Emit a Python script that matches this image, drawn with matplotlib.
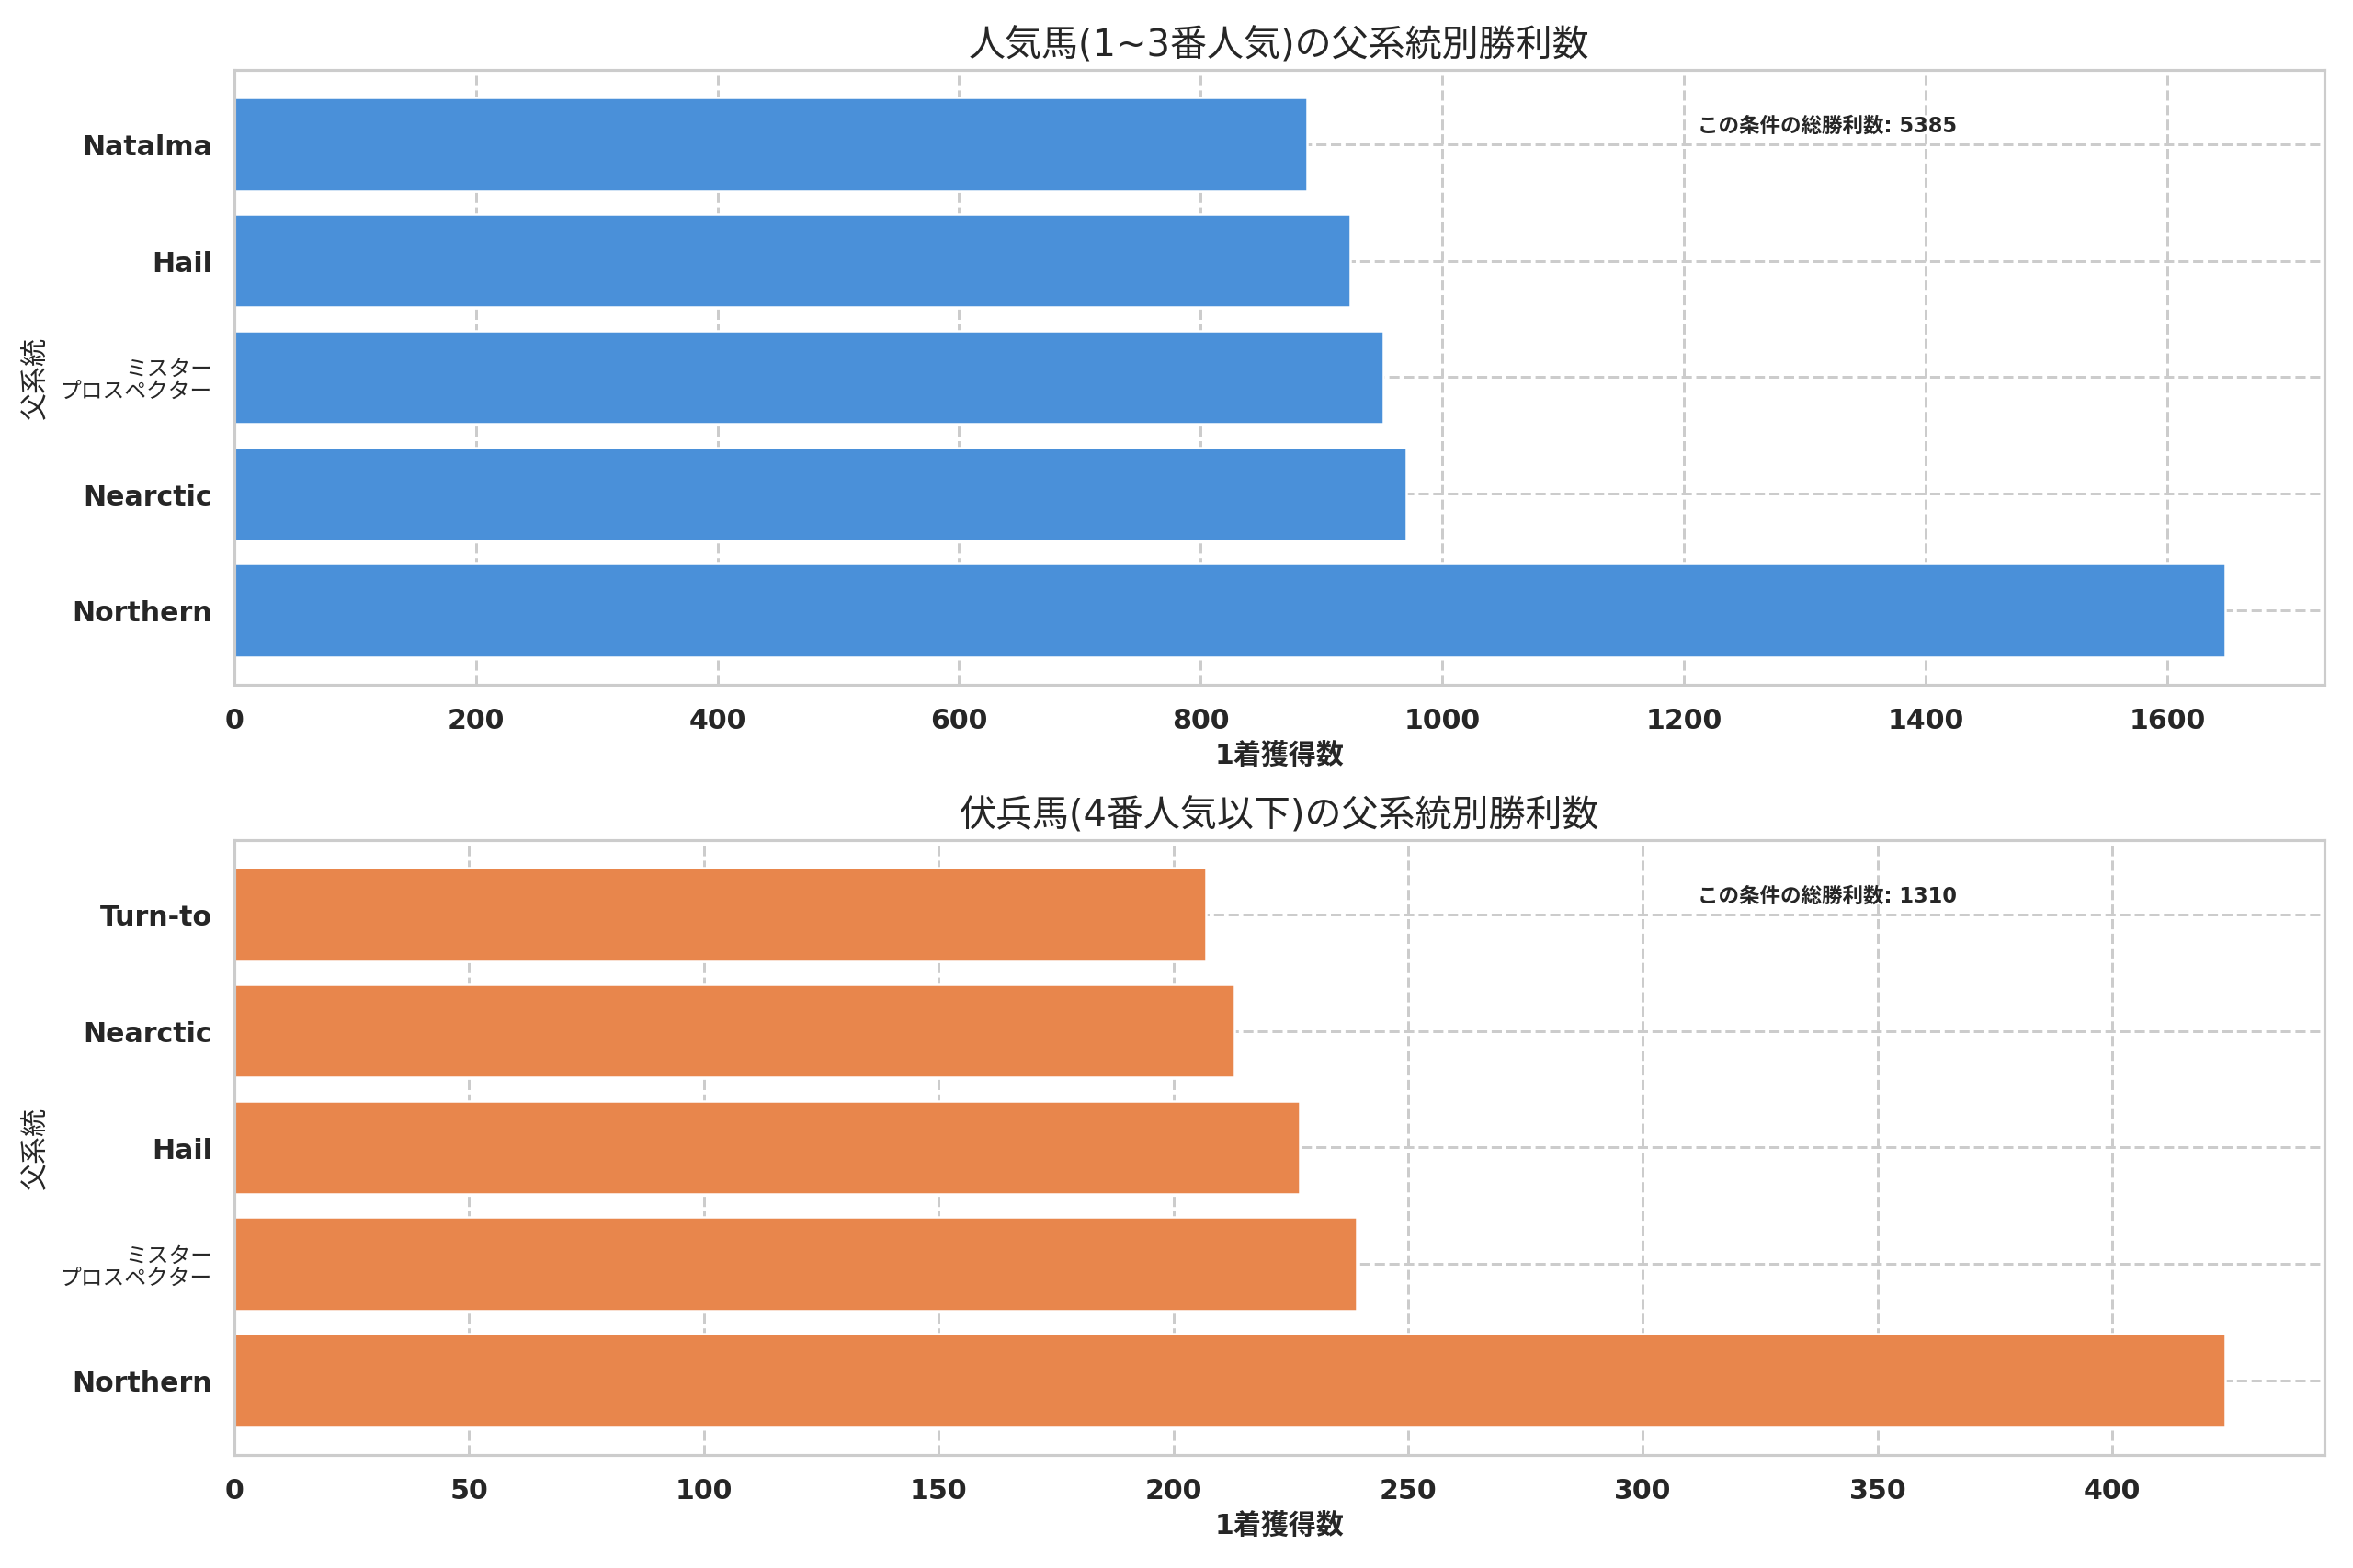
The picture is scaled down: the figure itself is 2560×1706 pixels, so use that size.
import numpy as np
import matplotlib
matplotlib.use("Agg")
import matplotlib.pyplot as plt
import seaborn as sns

sns.set_theme(style="whitegrid")
plt.rcParams['font.family'] = ['DejaVu Sans', 'Noto Sans CJK JP']

# data (bottom -> top)
top_names = ["Northern", "Nearctic", "ミスタープロスペクター", "Hail", "Natalma"]
top_wins = [1648, 970, 951, 924, 888]
top_total = 5385

low_names = ["Northern", "ミスタープロスペクター", "Hail", "Nearctic", "Turn-to"]
low_wins = [424, 239, 227, 213, 207]
low_total = 1310

titles = ["人気馬(1~3番人気)の父系統別勝利数", "伏兵馬(4番人気以下)の父系統別勝利数"]
xlabel = "1着獲得数"
ylabel = "父系統"
total_label = "この条件の総勝利数"

colors = ["#4A90D9", "#E8864C"]

fig, axes = plt.subplots(2, 1, figsize=(2560 / 180, 1707 / 180), dpi=180)
fig.subplots_adjust(left=0.0995, right=0.988, top=0.955, bottom=0.072, hspace=0.252)

panels = [(top_names, top_wins, top_total), (low_names, low_wins, low_total)]
for ax, (names, wins, total), title, color in zip(axes, panels, titles, colors):
    ypos = np.arange(len(names))
    ax.barh(ypos, wins, color=color, height=0.8)
    ax.set_yticks(ypos)
    # long katakana name is split on two lines so it fits left of the axes
    ax.set_yticklabels([n.replace("ミスター", "ミスター\n") if n.startswith("ミスター") else n
                        for n in names])
    ax.set_axisbelow(True)
    ax.grid(True, linestyle="--", color="#cccccc", linewidth=1.2)
    for sp in ax.spines.values():
        sp.set_color("#cccccc")
    ax.set_title(title, fontsize=16)
    ax.set_xlabel(xlabel, fontsize=12, fontweight="bold")
    ax.set_ylabel(ylabel, fontsize=12)
    ax.yaxis.set_label_coords(-0.089, 0.5)
    ax.tick_params(axis="both", labelsize=12)
    for lab in ax.get_xticklabels() + ax.get_yticklabels():
        lab.set_fontweight("bold")
        if "\n" in lab.get_text():
            lab.set_fontsize(9.5)
            lab.set_fontweight("normal")
            lab.set_linespacing(1.0)
    ax.text(0.7, 0.91, f"{total_label}: {total}", transform=ax.transAxes,
            fontsize=9, fontweight="bold", ha="left", va="center", color="#262626")

fig.savefig("out.png", dpi=180)
